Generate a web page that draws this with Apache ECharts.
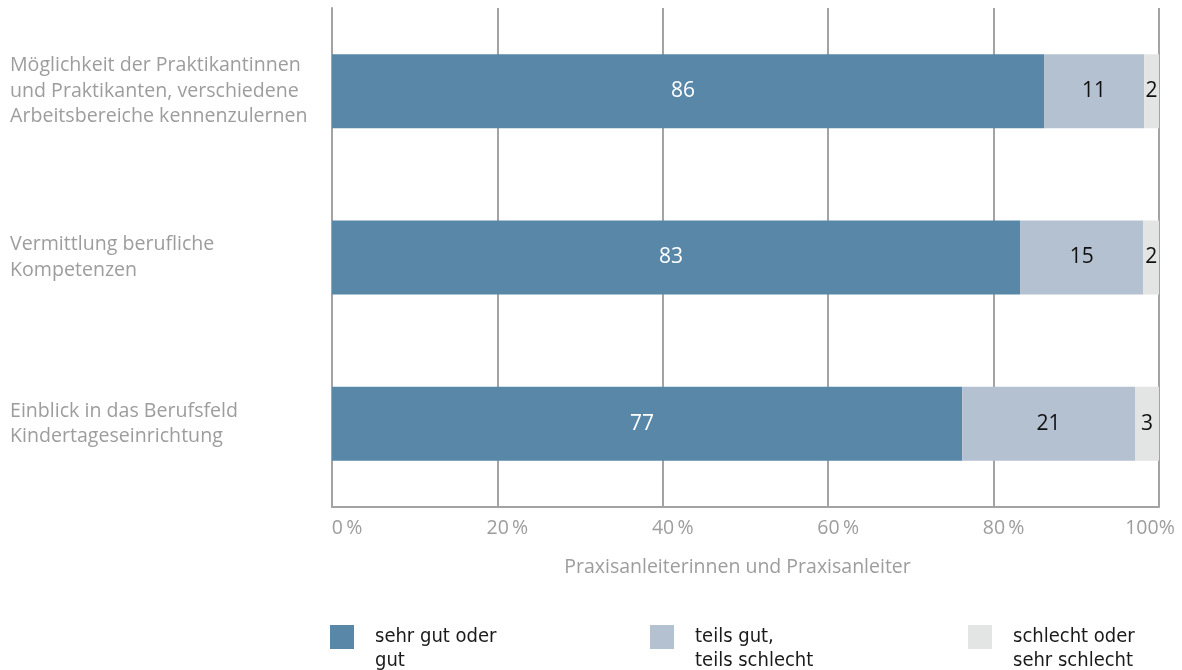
<!DOCTYPE html>
<html><head><meta charset="utf-8">
<script src="https://cdn.jsdelivr.net/npm/echarts@6/dist/echarts.min.js"></script>
<style>html,body{margin:0;padding:0;background:#fff}#c{width:1182px;height:670px}</style>
</head><body><div id="c"></div>
<script>
const categories = [
  'Möglichkeit der Praktikantinnen\nund Praktikanten, verschiedene\nArbeitsbereiche kennenzulernen',
  'Vermittlung berufliche\nKompetenzen',
  'Einblick in das Berufsfeld\nKindertageseinrichtung'
];
const seriesNames = ['sehr gut oder\ngut', 'teils gut,\nteils schlecht', 'schlecht oder\nsehr schlecht'];
// bar lengths (percent of row)
const sehrGut = [86.1, 83.2, 76.2];
const teils = [12.1, 14.9, 20.9];
const schlecht = [1.8, 1.9, 2.9];
// printed values
const sehrGutLabels = [86, 83, 77];
const teilsLabels = [11, 15, 21];
const schlechtLabels = [2, 2, 3];
const tickLabels = {0: '0\u2009%', 20: '20\u2009%', 40: '40\u2009%', 60: '60\u2009%', 80: '80\u2009%', 100: '100%'};
const xAxisTitle = 'Praxisanleiterinnen und Praxisanleiter';

const colors = ['#5887a8', '#b4c1d1', '#e3e4e4'];
const values = [sehrGut, teils, schlecht];
const labels = [sehrGutLabels, teilsLabels, schlechtLabels];
const font = '"Open Sans", sans-serif';
const grey = '#9d9d9d';

const series = values.map((arr, k) => ({
  name: seriesNames[k],
  type: 'bar',
  stack: 'a',
  barWidth: 74,
  itemStyle: { color: colors[k] },
  data: arr.map((v, i) => ({ value: v, lbl: labels[k][i] })),
  label: {
    show: true, position: 'inside',
    offset: k === 0 ? [-5, 0] : [0, 0],
    formatter: p => String(p.data.lbl),
    color: k === 0 ? '#ffffff' : '#111111',
    fontFamily: font, fontSize: 21
  }
}));

const legendLefts = [325, 645, 963];
const legendFont = { fontFamily: '"DejaVu Sans Condensed", sans-serif', fontSize: 20, color: '#1a1a1a', lineHeight: 24 };
const legends = seriesNames.map((n, k) => ({
  data: [n], left: legendLefts[k], top: 596, orient: 'horizontal',
  icon: 'rect', itemWidth: 24, itemHeight: 24, selectedMode: false,
  formatter: name => '{s| }\n' + name.split('\n').map(l => '{a|' + l + '}').join('\n'),
  textStyle: Object.assign({ padding: [0, 0, 0, 16], rich: { s: { lineHeight: 24, fontSize: 10 }, a: legendFont } }, legendFont)
}));

const chart = echarts.init(document.getElementById('c'));
chart.setOption({
  animation: false,
  color: colors,
  legend: legends,
  grid: { left: 332, right: 23, top: 8, bottom: 163 },
  xAxis: {
    type: 'value', min: 0, max: 100, interval: 20,
    name: xAxisTitle, nameLocation: 'middle', nameGap: 50,
    nameTextStyle: { fontFamily: font, fontSize: 19.5, color: grey, padding: [0, 16, 0, 0] },
    axisLine: { show: true, lineStyle: { color: '#a3a3a3', width: 2 } },
    axisTick: { show: false },
    splitLine: { show: true, lineStyle: { color: '#a3a3a3', width: 2 } },
    axisLabel: {
      margin: 11,
      formatter: v => {
        const key = v === 0 ? 'a' : (v === 100 ? 'c' : 'b');
        return '{' + key + '|' + tickLabels[v] + '}';
      },
      rich: {
        a: { fontFamily: font, fontSize: 19.5, color: grey, padding: [0, 0, 0, 30] },
        b: { fontFamily: font, fontSize: 19.5, color: grey, padding: [0, 0, 0, 20] },
        c: { fontFamily: font, fontSize: 19.5, color: grey, padding: [0, 18, 0, 0] }
      }
    }
  },
  yAxis: {
    type: 'category', data: categories, inverse: true,
    axisLine: { show: true, lineStyle: { color: '#a3a3a3', width: 2 } },
    axisTick: { show: false },
    axisLabel: { align: 'left', margin: 322, fontFamily: font, fontSize: 19.6, lineHeight: 25.5, color: grey }
  },
  series: series
});
</script></body></html>
